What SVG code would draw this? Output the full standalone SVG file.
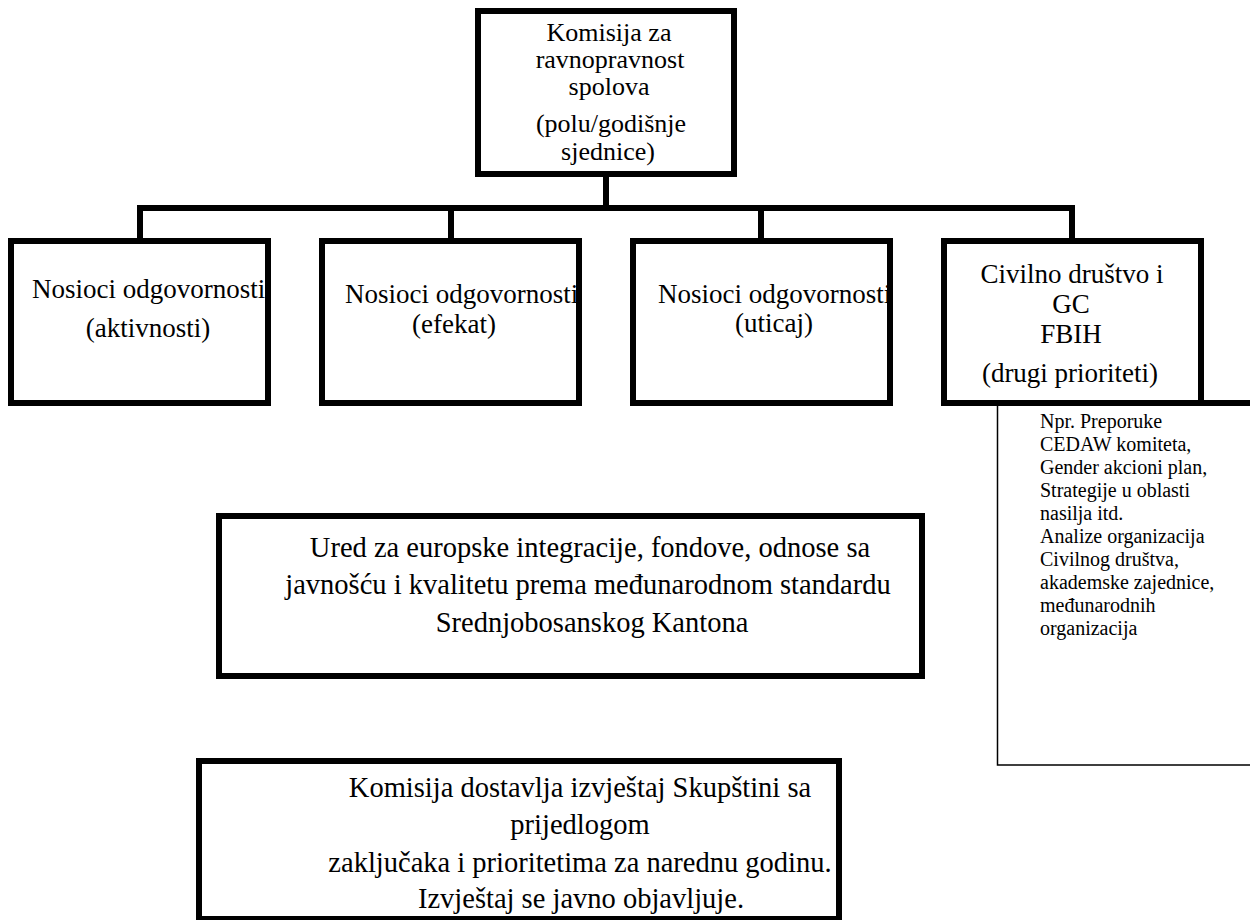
<svg xmlns="http://www.w3.org/2000/svg" width="1250" height="920" viewBox="0 0 1250 920">
<style>
.box{fill:#fff;stroke:#000;stroke-width:6}
.thin{fill:none;stroke:#000;stroke-width:1.5}
.con{fill:none;stroke:#000;stroke-width:6}
text{font-family:"Liberation Serif","Times New Roman",serif;fill:#000}
.t{font-size:27px}
.k{font-size:26px;text-anchor:middle}
.b{font-size:28.5px;text-anchor:middle}
.m{text-anchor:middle}
.n{font-size:20px}
</style>
<rect width="1250" height="920" fill="#fff"/>
<g id="connectors">
<line class="con" x1="606" y1="174" x2="606" y2="208"/>
<line class="con" x1="137" y1="208" x2="1075" y2="208"/>
<line class="con" x1="140" y1="208" x2="140" y2="241"/>
<line class="con" x1="451" y1="208" x2="451" y2="241"/>
<line class="con" x1="761" y1="208" x2="761" y2="241"/>
<line class="con" x1="1072" y1="208" x2="1072" y2="241"/>
</g>
<g id="komisija">
<rect class="box" x="478" y="11" width="256" height="163"/>
<text class="k" x="609" y="41">Komisija za</text>
<text class="k" x="610" y="68">ravnopravnost</text>
<text class="k" x="609" y="95">spolova</text>
<text class="k" x="611" y="132">(polu/godišnje</text>
<text class="k" x="608" y="160">sjednice)</text>
</g>
<g id="nosioci-aktivnosti">
<rect class="box" x="11" y="241" width="257" height="162"/>
<text class="t" x="32" y="298">Nosioci odgovornosti</text>
<text class="t m" x="148" y="337">(aktivnosti)</text>
</g>
<g id="nosioci-efekat">
<rect class="box" x="322" y="241" width="257" height="162"/>
<text class="t" x="345" y="303">Nosioci odgovornosti</text>
<text class="t m" x="454" y="333">(efekat)</text>
</g>
<g id="nosioci-uticaj">
<rect class="box" x="633" y="241" width="257" height="162"/>
<text class="t" x="658" y="303">Nosioci odgovornosti</text>
<text class="t m" x="774" y="332">(uticaj)</text>
</g>
<g id="civilno-drustvo">
<rect class="box" x="944" y="241" width="257" height="162"/>
<text class="t m" x="1072" y="283">Civilno društvo i</text>
<text class="t m" x="1071" y="313">GC</text>
<text class="t m" x="1071" y="343">FBIH</text>
<text class="t m" x="1070" y="382">(drugi prioriteti)</text>
</g>
<g id="napomena">
<line class="con" x1="1201" y1="403" x2="1250" y2="403"/>
<polyline class="thin" points="997.5,406 997.5,765 1250,765"/>
<text class="n" x="1040" y="428">Npr. Preporuke</text>
<text class="n" x="1040" y="451">CEDAW komiteta,</text>
<text class="n" x="1040" y="474">Gender akcioni plan,</text>
<text class="n" x="1040" y="497">Strategije u oblasti</text>
<text class="n" x="1040" y="520">nasilja itd.</text>
<text class="n" x="1040" y="543">Analize organizacija</text>
<text class="n" x="1040" y="566">Civilnog društva,</text>
<text class="n" x="1040" y="589">akademske zajednice,</text>
<text class="n" x="1040" y="612">međunarodnih</text>
<text class="n" x="1040" y="635">organizacija</text>
</g>
<g id="ured">
<rect class="box" x="219" y="516" width="703" height="160"/>
<text class="b" x="590" y="557">Ured za europske integracije, fondove, odnose sa</text>
<text class="b" x="588" y="594">javnošću i kvalitetu prema međunarodnom standardu</text>
<text class="b" x="592" y="632">Srednjobosanskog Kantona</text>
</g>
<g id="izvjestaj">
<rect class="box" x="199" y="761" width="640" height="158"/>
<text class="b" x="580" y="797">Komisija dostavlja izvještaj Skupštini sa</text>
<text class="b" x="580" y="834">prijedlogom</text>
<text class="b" x="580" y="872">zaključaka i prioritetima za narednu godinu.</text>
<text class="b" x="581" y="908">Izvještaj se javno objavljuje.</text>
</g>
</svg>
